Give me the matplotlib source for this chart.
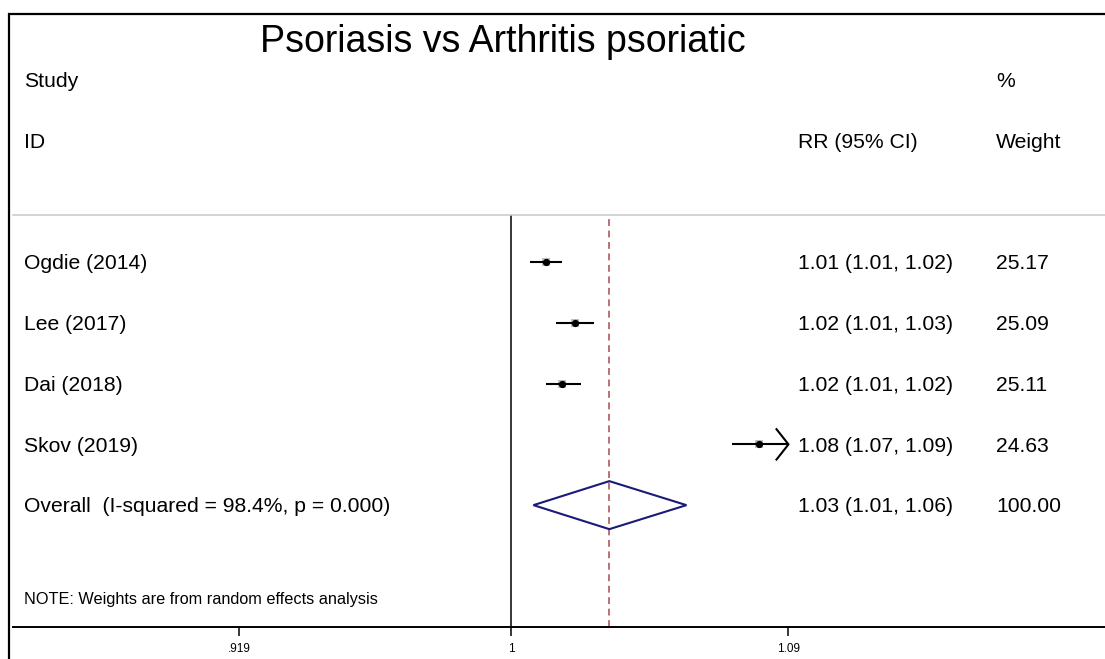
import numpy as np
import matplotlib
matplotlib.use('Agg')
import matplotlib.pyplot as plt
from matplotlib.patches import Rectangle, Polygon
from matplotlib.transforms import blended_transform_factory

plt.rcParams['font.family'] = ['Liberation Sans', 'DejaVu Sans']

# data
studies = ['Ogdie (2014)', 'Lee (2017)', 'Dai (2018)', 'Skov (2019)']
rr = [1.011, 1.020, 1.016, 1.080]
ci_low = [1.006, 1.014, 1.011, 1.071]
ci_high = [1.016, 1.026, 1.022, 1.091]
rr_text = ['1.01 (1.01, 1.02)', '1.02 (1.01, 1.03)', '1.02 (1.01, 1.02)', '1.08 (1.07, 1.09)']
weights = [25.17, 25.09, 25.11, 24.63]

overall_label = 'Overall  (I-squared = 98.4%, p = 0.000)'
overall_rr = 1.031
overall_low = 1.007
overall_high = 1.056
overall_text = '1.03 (1.01, 1.06)'

xtick_vals = [0.919, 1.0, 1.09]
xtick_labels = ['.919', '1', '1.09']

W, H = 1105, 659


def px(x, y):
    # pixel position (from top-left) -> figure fraction
    return x / W, 1 - y / H


fig = plt.figure(figsize=(W / 100, H / 100), dpi=100)

# outer frame of the graph region
fig.add_artist(Rectangle(px(9, 670), 1.2, (670 - 14) / H, transform=fig.transFigure,
                         fill=False, edgecolor='black', linewidth=1.6))

fig.text(*px(503, 52), 'Psoriasis vs Arthritis psoriatic', ha='center', va='baseline',
         fontsize=27)

ax_l, ax_r, ax_t, ax_b = 13, W, 215, 626.7
ax = fig.add_axes([ax_l / W, (H - ax_b) / H, (ax_r - ax_l) / W, (ax_b - ax_t) / H])

k = 3220.0  # pixels per log unit
x_left = np.exp((ax_l - 511) / k)
x_right = np.exp((ax_r - 511) / k)
ax.set_xscale('log')
ax.set_xlim(x_left, x_right)
ax.set_ylim(6.0, -0.774)

for s in ['left', 'right']:
    ax.spines[s].set_visible(False)
ax.spines['top'].set_color('#c8c8c8')
ax.spines['top'].set_linewidth(1.1)
ax.spines['bottom'].set_linewidth(1.4)
ax.set_yticks([])
ax.set_xticks(xtick_vals)
ax.set_xticklabels(xtick_labels)
ax.xaxis.set_minor_locator(matplotlib.ticker.NullLocator())
ax.tick_params(axis='x', direction='out', length=6.5, width=1.1, labelsize=8.5, pad=5)

ax.axvline(1.0, color='black', linewidth=1.1, zorder=1)
ax.axvline(overall_rr, color='#a84a55', linewidth=1.1, linestyle=(0, (4.5, 3)),
           ymax=0.992, zorder=1)

axis_max = xtick_vals[-1]
rows = np.arange(len(studies))
for i, y in enumerate(rows):
    box = 6.2 * np.sqrt(weights[i] / 25.0)
    ax.plot(rr[i], y, marker='s', markersize=box, color='#bfbfbf', markeredgewidth=0,
            zorder=2)
    hi = min(ci_high[i], axis_max)
    ax.plot([ci_low[i], hi], [y, y], color='black', linewidth=1.5, zorder=3,
            solid_capstyle='butt')
    if ci_high[i] > axis_max:
        back = axis_max * np.exp(-12 / k)
        ax.plot([back, axis_max, back], [y - 0.25, y, y + 0.25], color='black',
                linewidth=1.5, zorder=3)
    ax.plot(rr[i], y, marker='o', markersize=4.2, color='black', zorder=5)

y_ov = len(studies)
diamond = Polygon([[overall_low, y_ov], [overall_rr, y_ov - 0.395],
                   [overall_high, y_ov], [overall_rr, y_ov + 0.395]],
                  closed=True, fill=False, edgecolor='#1a1a78', linewidth=1.5, zorder=3)
ax.add_patch(diamond)

# text columns
tr = blended_transform_factory(ax.transAxes, ax.transData)
col_study = (24 - ax_l) / (ax_r - ax_l)
col_rr = (798 - ax_l) / (ax_r - ax_l)
col_wt = (996 - ax_l) / (ax_r - ax_l)
base = 0.12
fs = 15.2
txt = dict(transform=tr, fontsize=fs, va='baseline', ha='left', clip_on=False)

ax.text(col_study, -3 + base, 'Study', **txt)
ax.text(col_study, -2 + base, 'ID', **txt)
ax.text(col_rr, -2 + base, 'RR (95% CI)', **txt)
ax.text(col_wt, -3 + base, '%', **txt)
ax.text(col_wt, -2 + base, 'Weight', **txt)

for i, y in enumerate(rows):
    ax.text(col_study, y + base, studies[i], **txt)
    ax.text(col_rr, y + base, rr_text[i], **txt)
    ax.text(col_wt, y + base, f'{weights[i]:.2f}', **txt)

ax.text(col_study, y_ov + base, overall_label, **txt)
ax.text(col_rr, y_ov + base, overall_text, **txt)
ax.text(col_wt, y_ov + base, f'{sum(weights):.2f}', **txt)

ax.text(col_study, 5.62, 'NOTE: Weights are from random effects analysis', transform=tr,
        fontsize=11.7, va='baseline', ha='left')

fig.savefig('out.png', dpi=100)
